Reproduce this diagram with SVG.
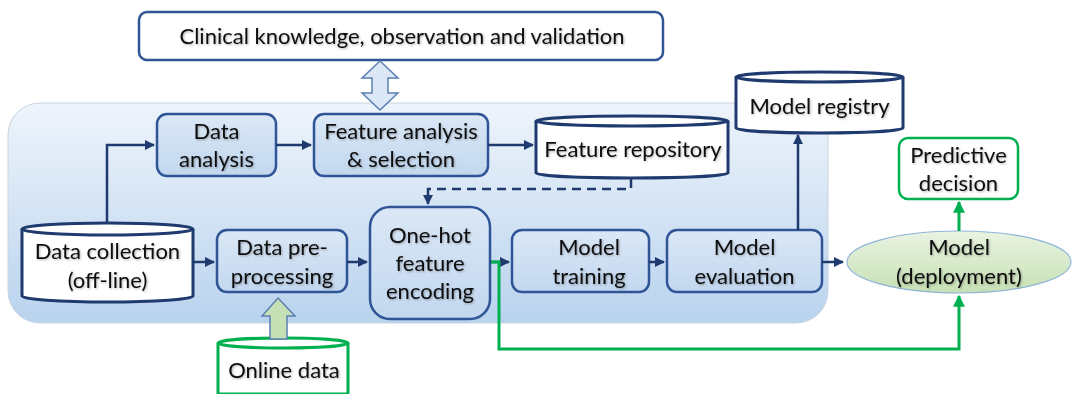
<svg xmlns="http://www.w3.org/2000/svg" width="1076" height="394" viewBox="0 0 1076 394">
<defs>
<linearGradient id="bg" x1="0" y1="0" x2="0" y2="1">
<stop offset="0" stop-color="#eef4fb"/>
<stop offset="1" stop-color="#b9d3ee"/>
</linearGradient>
<linearGradient id="box" x1="0" y1="0" x2="0" y2="1">
<stop offset="0" stop-color="#dbe8f6"/>
<stop offset="1" stop-color="#c2d7ef"/>
</linearGradient>
<linearGradient id="grn" x1="0" y1="0" x2="0" y2="1">
<stop offset="0" stop-color="#eaf4e2"/>
<stop offset="1" stop-color="#c6e0b4"/>
</linearGradient>
<filter id="sh" x="-10%" y="-20%" width="120%" height="140%">
<feDropShadow dx="1" dy="1" stdDeviation="0.8" flood-color="#000" flood-opacity="0.3"/>
</filter>
<marker id="ah" viewBox="0 0 10 10" refX="9" refY="5" markerWidth="4" markerHeight="4" orient="auto-start-reverse" markerUnits="strokeWidth">
<path d="M0,0 L10,5 L0,10 Z" fill="#1f3a6e"/>
</marker>
<marker id="ahg" viewBox="0 0 10 10" refX="9" refY="5" markerWidth="4" markerHeight="4" orient="auto-start-reverse" markerUnits="strokeWidth">
<path d="M0,0 L10,5 L0,10 Z" fill="#00b050"/>
</marker>
</defs>
<style>
text{font-family:Lato,"Open Sans","Liberation Sans",sans-serif;font-size:22px;fill:#0d0d0d;text-anchor:middle;filter:url(#sh)}
.b{fill:url(#box);stroke:#2f5597;stroke-width:2.5}
.w{fill:#fff;stroke:#2f5597;stroke-width:2.5}
.cyl{fill:#fff;stroke:#1f3a6e;stroke-width:3}
.gcyl{fill:#fff;stroke:#00b050;stroke-width:3}
.c{fill:none;stroke:#1f3a6e;stroke-width:2.5}
.g{fill:none;stroke:#00b050;stroke-width:3}
</style>

<g id="container">
<rect x="8" y="103" width="820" height="220" rx="32" fill="url(#bg)" stroke="#c9d3de" stroke-width="1"/>
</g>

<g id="clinical">
<rect class="w" x="139" y="12" width="524" height="48" rx="8"/>
<text x="402" y="44">Clinical knowledge, observation and validation</text>
</g>

<g id="bidir-arrow">
<path d="M380,61 L398,78 L388,78 L388,93 L398,93 L380,110 L362,93 L372,93 L372,78 L362,78 Z" fill="#dce8f5" stroke="#5b7fb3" stroke-width="1.5"/>
</g>

<g id="data-analysis">
<rect class="b" x="157" y="114" width="119" height="62" rx="10"/>
<text x="216.5" y="139">Data</text>
<text x="216.5" y="167">analysis</text>
</g>

<g id="feature-analysis">
<rect class="b" x="314" y="114" width="174" height="62" rx="10"/>
<text x="401" y="139">Feature analysis</text>
<text x="401" y="167">&amp; selection</text>
</g>

<g id="feature-repository">
<path class="cyl" d="M536,121 A96,5 0 0 1 728,121 L728,173 A96,5 0 0 1 536,173 Z"/>
<path class="cyl" d="M536,121 A96,5 0 0 0 728,121"/>
<text x="633" y="157">Feature repository</text>
</g>

<g id="model-registry">
<path class="cyl" d="M736,77 A83.5,5 0 0 1 903,77 L903,128 A83.5,5 0 0 1 736,128 Z"/>
<path class="cyl" d="M736,77 A83.5,5 0 0 0 903,77"/>
<text x="819.5" y="114">Model registry</text>
</g>

<g id="predictive-decision">
<rect x="899" y="138" width="119" height="61" rx="9" fill="#fff" stroke="#00b050" stroke-width="2.5"/>
<text x="958.5" y="163">Predictive</text>
<text x="958.5" y="191">decision</text>
</g>

<g id="data-collection">
<path class="cyl" d="M22,229 A85.5,6 0 0 1 193,229 L193,296 A85.5,6 0 0 1 22,296 Z"/>
<path class="cyl" d="M22,229 A85.5,6 0 0 0 193,229"/>
<text x="107.5" y="259">Data collection</text>
<text x="107.5" y="288">(off-line)</text>
</g>

<g id="data-preprocessing">
<rect class="b" x="217" y="230" width="130" height="62" rx="10"/>
<text x="282" y="255">Data pre-</text>
<text x="282" y="284">processing</text>
</g>

<g id="one-hot">
<rect class="b" x="370" y="207" width="120" height="112" rx="20"/>
<text x="430" y="243">One-hot</text>
<text x="430" y="271">feature</text>
<text x="430" y="299">encoding</text>
</g>

<g id="model-training">
<rect class="b" x="512" y="230" width="137" height="62" rx="10"/>
<text x="589" y="255">Model</text>
<text x="589" y="284">training</text>
</g>

<g id="model-evaluation">
<rect class="b" x="667" y="230" width="155" height="62" rx="10"/>
<text x="744.5" y="255">Model</text>
<text x="744.5" y="284">evaluation</text>
</g>

<g id="model-deployment">
<ellipse cx="959" cy="262" rx="112" ry="31" fill="url(#grn)" stroke="#8fb4d9" stroke-width="1.2"/>
<text x="959" y="255">Model</text>
<text x="959" y="284">(deployment)</text>
</g>

<g id="online-data">
<path class="gcyl" d="M218,343 A65,5 0 0 1 348,343 L348,394 L218,394 Z"/>
<path class="gcyl" d="M218,343 A65,5 0 0 0 348,343"/>
<text x="284" y="378">Online data</text>
</g>

<g id="online-arrow">
<path d="M278,298 L295,316 L287,316 L287,339 L270,339 L270,316 L262,316 Z" fill="#c5e0b4" stroke="#5b7fb3" stroke-width="1.5"/>
</g>

<g id="connectors">
<path class="c" d="M107,223 L107,145 L154,145" marker-end="url(#ah)"/>
<path class="c" d="M276,145 L311,145" marker-end="url(#ah)"/>
<path class="c" d="M488,145 L533,145" marker-end="url(#ah)"/>
<path class="c" d="M631,179 L631,189 L428,189 L428,204" stroke-dasharray="9,6" marker-end="url(#ah)"/>
<path class="c" d="M193,262 L214,262" marker-end="url(#ah)"/>
<path class="c" d="M347,262 L367,262" marker-end="url(#ah)"/>
<path class="c" d="M490,262 L509,262" marker-end="url(#ah)"/>
<path class="c" d="M649,262 L664,262" marker-end="url(#ah)"/>
<path class="c" d="M798,230 L798,135" marker-end="url(#ah)"/>
<path class="c" d="M822,262 L843,262" marker-end="url(#ah)"/>
<path class="g" d="M491,262 L499,262 L499,349 L959,349 L959,296" marker-end="url(#ahg)"/>
<path class="g" d="M959,231 L959,202" marker-end="url(#ahg)"/>
</g>
</svg>
